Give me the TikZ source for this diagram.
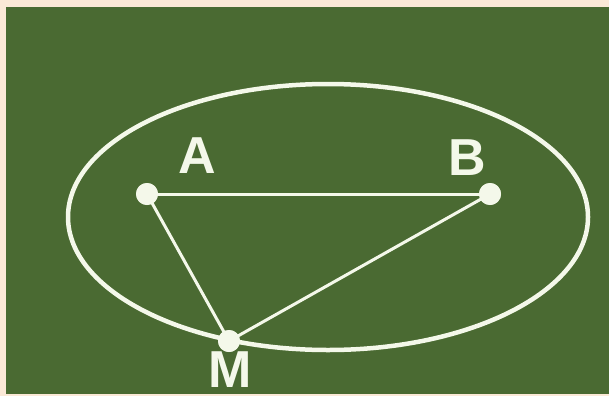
\documentclass[tikz,border=0pt]{standalone}
\usepackage{fontspec}
\setmainfont{Liberation Sans}
\definecolor{bgbeige}{RGB}{251,233,215}
\definecolor{board}{RGB}{74,106,50}
\definecolor{chalk}{RGB}{244,248,234}
\begin{document}
\begin{tikzpicture}[x=1pt,y=-1pt,
  chalkline/.style={draw=chalk,line width=3pt},
  dot/.style={circle,fill=chalk,inner sep=0pt,minimum size=22pt},
  lbl/.style={text=chalk,font=\fontsize{52}{52}\selectfont\bfseries,inner sep=0pt}]
\fill[bgbeige] (0,0) rectangle (609,396);
\useasboundingbox (0,0) rectangle (609,396);
\fill[board] (6,7) rectangle (609,394);
\draw[draw=chalk,line width=4.5pt] (328,217) ellipse [x radius=260,y radius=133];
\node[dot] (A) at (147,194) {};
\node[dot] (B) at (490,194) {};
\node[dot] (M) at (229,341) {};
\draw[chalkline] (A.center) -- (B.center);
\draw[chalkline] (A.center) -- (M.center);
\draw[chalkline] (B.center) -- (M.center);
\node[dot] at (A) {};
\node[dot] at (B) {};
\node[dot] at (M) {};
\node[lbl] (la) at (197,156) {A};
\node[lbl] (lb) at (467,158) {B};
\node[lbl] (lm) at (230,370) {M};
\end{tikzpicture}
\end{document}
